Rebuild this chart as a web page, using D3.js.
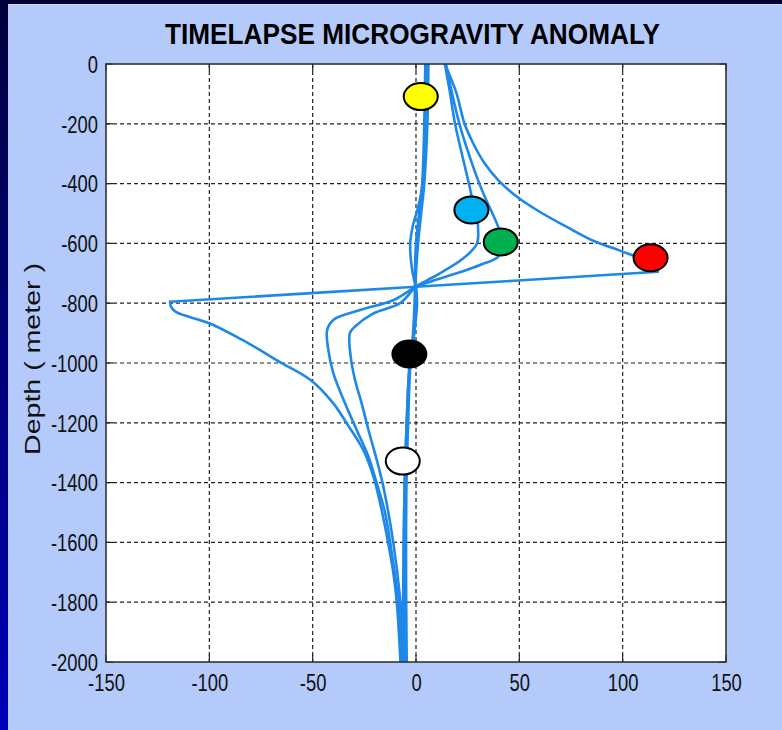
<!DOCTYPE html>
<html lang="en">
<head>
  <meta charset="UTF-8">
  <title>Timelapse Microgravity Anomaly</title>
  <script src="https://d3js.org/d3.v7.min.js"></script>
  <style>
    body { margin: 0; background: #b3cafb; }
    svg { display: block; }
    .tick-label { font-family: "Liberation Sans", Arial, sans-serif; font-size: 23px; fill: #111; }
  </style>
</head>
<body>
  <div id="chart"></div>

  <script>
    // anomaly curves: [anomaly, depth] pairs
    // the strongest curve has two sharp corners, so it is kept in three pieces
    const curveRedUpper = [[14,0],[17,-50],[19.7,-100],[23.5,-200],[28,-270],[33,-330],[40,-390],[49,-445],[60,-495],[73,-545],[86,-592],[99,-625],[110,-655],[116,-680],[117,-695]];
    const curveRedCross = [[117,-695],[0,-745],[-119,-795]];
    const curveRedLower = [[-119,-795],[-118.5,-812],[-116,-830],[-100,-867],[-84,-923],[-66,-996],[-51,-1057],[-40,-1135],[-33.5,-1202],[-25.5,-1291],[-20.6,-1380],[-17,-1480],[-13.5,-1600],[-11,-1700],[-9.3,-1800],[-8.3,-1900],[-7.5,-2000]];
    const curveGreen = [[14.5,0],[17.5,-100],[21,-200],[25,-290],[29,-370],[33,-440],[37,-500],[40,-550],[41,-600],[39.8,-644],[31,-672],[19.7,-700],[6.8,-728],[0,-745],
      [-11,-790],[-27,-823],[-40,-856],[-43,-890],[-42.4,-957],[-40,-1034],[-35,-1124],[-28.7,-1224],[-23,-1313],[-19,-1402],[-15,-1500],[-12.5,-1600],[-8.5,-1800],[-6.5,-2000]];
    const curveBlue = [[14,0],[16.5,-98],[18.9,-200],[22.9,-321],[25.6,-400],[27,-444],[29.5,-500],[30,-544],[29.5,-600],[22.9,-650],[11.6,-700],[5,-725],[0,-745],
      [-7.7,-800],[-20.6,-834],[-29.5,-878],[-32,-900],[-31.6,-979],[-29.5,-1057],[-26.3,-1135],[-23,-1224],[-19,-1324],[-15.8,-1414],[-11,-1600],[-7.5,-1800],[-5.5,-2000]];
    const curveNear1 = [[4.5,0],[4,-200],[3,-400],[1.5,-500],[0,-600],[-0.5,-700],[-0.5,-750],[-1,-850],[-2,-950],[-3.2,-1010],[-4.5,-1200],[-5.5,-1400],[-5.8,-1700],[-5.5,-2000]];
    const curveNear2 = [[6,0],[5.5,-200],[4,-400],[2.5,-500],[1,-600],[0,-700],[-0.3,-750],[-0.5,-850],[-1.5,-950],[-2.7,-1010],[-3.8,-1200],[-4.6,-1400],[-4.8,-1700],[-4.5,-2000]];
    const curveNear3 = [[5,0],[4.5,-200],[3.2,-400],[1,-480],[-1.5,-540],[-2.8,-600],[-2.3,-666],[-1,-720],[0,-745],[0.5,-800],[-0.5,-880],[-2,-950],[-3.5,-1050],[-5,-1300],[-6,-1600],[-6.3,-2000]];
    const curves = [curveRedUpper, curveRedCross, curveRedLower, curveGreen, curveBlue, curveNear1, curveNear2, curveNear3];

    // markers
    const markerX = [2.3, 26.8, 41, 113.5, -3.2, -6.4];
    const markerDepth = [-109, -488, -595, -648, -970, -1328];
    const markerColor = ["#ffff00", "#00b0f0", "#00b050", "#ff0000", "#000000", "#ffffff"];

    const xTicks = [-150, -100, -50, 0, 50, 100, 150];
    const yTicks = [0, -200, -400, -600, -800, -1000, -1200, -1400, -1600, -1800, -2000];

    const width = 782;
    const height = 730;
    const plotL = 106, plotR = 726, plotT = 64, plotB = 662;

    const svg = d3.select("#chart")
      .append("svg")
      .attr("width", width)
      .attr("height", height);

    // slide background
    const grad = svg.append("defs").append("linearGradient")
      .attr("id", "edge")
      .attr("x1", 0).attr("y1", 0).attr("x2", 0).attr("y2", 1);
    grad.append("stop").attr("offset", "0%").attr("stop-color", "#00003c");
    grad.append("stop").attr("offset", "100%").attr("stop-color", "#0000b8");

    svg.append("rect").attr("width", width).attr("height", height).attr("fill", "#b3cafb");
    svg.append("rect").attr("width", width).attr("height", 4).attr("fill", "#000036");
    svg.append("rect").attr("y", 4).attr("width", width).attr("height", 1).attr("fill", "#d8e0f4");
    svg.append("rect").attr("width", 8).attr("height", height).attr("fill", "url(#edge)");

    const x = d3.scaleLinear().domain([-150, 150]).range([plotL, plotR]);
    const y = d3.scaleLinear().domain([-2000, 0]).range([plotB, plotT]);

    svg.append("rect")
      .attr("x", plotL).attr("y", plotT)
      .attr("width", plotR - plotL).attr("height", plotB - plotT)
      .attr("fill", "#fff");

    // dashed grid
    svg.append("g").selectAll("line")
      .data(xTicks.slice(1, -1))
      .enter().append("line")
      .attr("x1", d => x(d)).attr("x2", d => x(d))
      .attr("y1", plotT).attr("y2", plotB)
      .attr("stroke", "#222").attr("stroke-width", 1.2)
      .attr("stroke-dasharray", "4,3");

    svg.append("g").selectAll("line")
      .data(yTicks.slice(1, -1))
      .enter().append("line")
      .attr("x1", plotL).attr("x2", plotR)
      .attr("y1", d => y(d)).attr("y2", d => y(d))
      .attr("stroke", "#222").attr("stroke-width", 1.2)
      .attr("stroke-dasharray", "4,3");

    // inward tick marks
    const tickLen = 7;
    const ticks = svg.append("g").attr("stroke", "#222").attr("stroke-width", 1.2);
    xTicks.forEach(t => {
      ticks.append("line").attr("x1", x(t)).attr("x2", x(t)).attr("y1", plotB).attr("y2", plotB - tickLen);
      ticks.append("line").attr("x1", x(t)).attr("x2", x(t)).attr("y1", plotT).attr("y2", plotT + tickLen);
    });
    yTicks.forEach(t => {
      ticks.append("line").attr("x1", plotL).attr("x2", plotL + tickLen).attr("y1", y(t)).attr("y2", y(t));
      ticks.append("line").attr("x1", plotR).attr("x2", plotR - tickLen).attr("y1", y(t)).attr("y2", y(t));
    });

    // curves
    svg.append("clipPath").attr("id", "plot")
      .append("rect")
      .attr("x", plotL).attr("y", plotT)
      .attr("width", plotR - plotL).attr("height", plotB - plotT);

    const line = d3.line()
      .x(d => x(d[0]))
      .y(d => y(d[1]))
      .curve(d3.curveCatmullRom.alpha(0.5));

    svg.append("g")
      .attr("clip-path", "url(#plot)")
      .selectAll("path")
      .data(curves)
      .enter().append("path")
      .attr("d", line)
      .attr("fill", "none")
      .attr("stroke", "#1e88e8")
      .attr("stroke-width", 2.6)
      .attr("stroke-linejoin", "round")
      .attr("stroke-linecap", "round");

    // markers
    svg.append("g").selectAll("ellipse")
      .data(markerX)
      .enter().append("ellipse")
      .attr("cx", d => x(d))
      .attr("cy", (d, i) => y(markerDepth[i]))
      .attr("rx", 17)
      .attr("ry", 13.5)
      .attr("fill", (d, i) => markerColor[i])
      .attr("stroke", "#000")
      .attr("stroke-width", 2);

    // frame
    svg.append("rect")
      .attr("x", plotL).attr("y", plotT)
      .attr("width", plotR - plotL).attr("height", plotB - plotT)
      .attr("fill", "none")
      .attr("stroke", "#333")
      .attr("stroke-width", 1.6);

    // axes
    const xAxis = svg.append("g")
      .attr("transform", `translate(0,${plotB})`)
      .call(d3.axisBottom(x).tickValues(xTicks).tickSize(0).tickPadding(12).tickFormat(d => String(d)));
    const yAxis = svg.append("g")
      .attr("transform", `translate(${plotL},0)`)
      .call(d3.axisLeft(y).tickValues(yTicks).tickSize(0).tickPadding(10).tickFormat(d => String(d)));

    [xAxis, yAxis].forEach(a => {
      a.select(".domain").remove();
      a.selectAll("text")
        .attr("class", "tick-label")
        .attr("fill", "#111")
        .attr("transform", "scale(0.8,1)");
    });
    xAxis.selectAll("text").attr("dy", "0.72em");
    yAxis.selectAll("text").attr("dy", "0.36em");

    // labels
    svg.append("text")
      .attr("x", 412.5)
      .attr("y", 43.5)
      .attr("text-anchor", "middle")
      .attr("textLength", 495)
      .attr("lengthAdjust", "spacingAndGlyphs")
      .style("font-family", "'Liberation Sans', Arial, sans-serif")
      .style("font-weight", "bold")
      .style("font-size", "30px")
      .attr("fill", "#000")
      .text("TIMELAPSE MICROGRAVITY ANOMALY");

    svg.append("text")
      .attr("transform", "translate(40,359) scale(0.8,1) rotate(-90)")
      .attr("text-anchor", "middle")
      .attr("textLength", 192)
      .attr("lengthAdjust", "spacingAndGlyphs")
      .style("font-family", "'Liberation Sans', Arial, sans-serif")
      .style("font-size", "27px")
      .attr("fill", "#111")
      .text("Depth ( meter )");
  </script>
</body>
</html>
